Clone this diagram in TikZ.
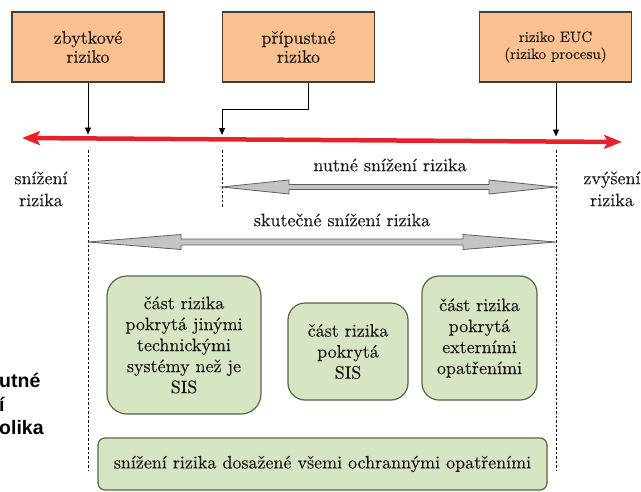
\documentclass[tikz,border=0pt]{standalone}
\usepackage{fontspec}
\newfontfamily\fragfont{Liberation Sans}
\newfontfamily\labelserif{lmroman10-regular.otf}[FakeBold=0.35]
\usetikzlibrary{arrows.meta,calc}

\definecolor{boxorange}{HTML}{FAC090}
\definecolor{boxedge}{HTML}{453C33}
\definecolor{boxgreen}{HTML}{D7E5C4}
\definecolor{greenedge}{HTML}{56664A}
\definecolor{riskred}{HTML}{E52229}
\definecolor{arrowgray}{HTML}{C4C4C4}
\definecolor{arrowedge}{HTML}{5E5E5E}
\definecolor{inktext}{HTML}{1E1A17}

\begin{document}
\begin{tikzpicture}[x=1pt,y=-1pt,
  every node/.style={text=inktext},
  topbox/.style={draw=boxedge, line width=1.2pt, fill=boxorange,
    minimum width=152pt, minimum height=70pt, align=center, inner sep=0pt,
    font=\labelserif\fontsize{18}{19}\selectfont},
  greenbox/.style={draw=greenedge, line width=1.2pt, fill=boxgreen,
    align=center, inner sep=0pt, font=\labelserif\fontsize{18}{21}\selectfont},
  sidetext/.style={align=center, inner sep=0pt, font=\labelserif\fontsize{18}{22}\selectfont},
  pointer/.style={draw=black, line width=0.9pt, -{Triangle[length=7pt,width=6pt]}},
  riskline/.style={draw=riskred, line width=4.5pt,
    {Stealth[length=18pt,width=14pt,inset=4pt]}-{Stealth[length=18pt,width=14pt,inset=4pt]}},
  guide/.style={draw=black, line width=0.9pt, dash pattern=on 2.5pt off 2pt},
  grayarrow/.style={draw=arrowedge, line width=0.8pt, fill=arrowgray, line join=miter},
  fragtext/.style={anchor=west, inner sep=0pt, text=black,
    font=\fragfont\bfseries\fontsize{19.5}{24}\selectfont},
]
\useasboundingbox (0,0) rectangle (641,491);

% --- risk level boxes ---
\node[topbox] (b1) at (88,47) {zbytkové\\riziko};
\node[topbox] (b2) at (298.5,47) {přípustné\\riziko};
\node[topbox, font=\labelserif\fontsize{15}{17}\selectfont] (b3) at (555.5,47) {riziko EUC\\(riziko procesu)};

% --- risk axis ---
\coordinate (axL) at (22,138);
\coordinate (axR) at (622,142);
\draw[riskline] (axL) -- (axR);

\coordinate (t1) at (88,134.5);
\coordinate (t2) at (222,135);
\coordinate (t3) at (556,136.5);
\draw[pointer] (b1.south) -- (t1);
\draw[pointer] ([xshift=9.5pt]b2.south) -- ++(0,27) -| (t2);
\draw[pointer] ([xshift=0.5pt]b3.south) -- (t3);

% --- guide lines ---
\coordinate (g1a) at (88,150);  \coordinate (g1b) at (88,470);
\coordinate (g2a) at (222,150); \coordinate (g2b) at (222,208);
\coordinate (g3a) at (556,150); \coordinate (g3b) at (556,470);
\draw[guide] (g1a) -- (g1b);
\draw[guide] (g2a) -- (g2b);
\draw[guide] (g3a) -- (g3b);

% --- side labels ---
\node[sidetext] (lowlab) at (41,189) {snížení\\rizika};
\node[sidetext] (highlab) at (612,189) {zvýšení\\rizika};

% --- necessary reduction ---
\node[sidetext] (nutne) at (390,165) {nutné snížení rizika};
\coordinate (n1) at (222,187);
\coordinate (n2) at (556,187);
\path[grayarrow] (n1) -- ++(67,-7) -- ++(0,4.5) -- ($(n2)+(-67,-2.5)$) -- ++(0,-4.5)
  -- (n2) -- ++(-67,7) -- ++(0,-4.5) -- ($(n1)+(67,2.5)$) -- ++(0,4.5) -- cycle;

% --- actual reduction ---
\node[sidetext] (skut) at (342,220) {skutečné snížení rizika};
\coordinate (s1) at (88,242);
\coordinate (s2) at (556,242);
\path[grayarrow] (s1) -- ++(93,-7.5) -- ++(0,4.5) -- ($(s2)+(-93,-3)$) -- ++(0,-4.5)
  -- (s2) -- ++(-93,7.5) -- ++(0,-4.5) -- ($(s1)+(93,3)$) -- ++(0,4.5) -- cycle;

% --- contributions to risk reduction ---
\node[greenbox, rounded corners=20pt, minimum width=154pt, minimum height=138pt] (c1)
  at (184,345) {část rizika\\pokrytá jinými\\technickými\\systémy než je\\SIS};
\node[greenbox, rounded corners=17pt, minimum width=120pt, minimum height=97pt] (c2)
  at (348,351.5) {část rizika\\pokrytá\\SIS};
\node[greenbox, rounded corners=17pt, minimum width=115pt, minimum height=124pt] (c3)
  at (479.5,338) {část rizika\\pokrytá\\externími\\opatřeními};
\node[greenbox, rounded corners=7pt, minimum width=449pt, minimum height=52pt] (call)
  at (322.5,464) {snížení rizika dosažené všemi ochrannými opatřeními};

% --- clipped caption at the left edge ---
\node[fragtext] (frag1) at (-1,380) {utné};
\node[fragtext] (frag2) at (-1,404) {í};
\node[fragtext] (frag3) at (-1,428) {olika};
\end{tikzpicture}
\end{document}
